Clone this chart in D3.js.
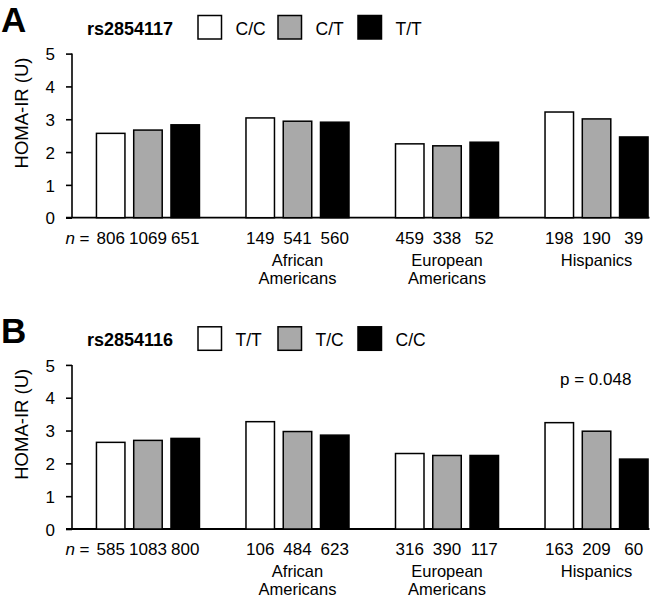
<!DOCTYPE html>
<html>
<head>
<meta charset="utf-8">
<script src="https://cdn.jsdelivr.net/npm/d3@7"></script>
<style>
  html, body { margin: 0; padding: 0; background: #fff; }
  svg { display: block; font-family: "Liberation Sans", Arial, Helvetica, sans-serif; }
</style>
</head>
<body>
<svg id="chart" width="650" height="599"></svg>
<script>
// ---- data ----
const groups = ["All", "African Americans", "European Americans", "Hispanics"];
const groupLabels = [[], ["African", "Americans"], ["European", "Americans"], ["Hispanics"]];
const yTicks = [0, 1, 2, 3, 4, 5];

const snpA = "rs2854117";
const genotypesA = ["C/C", "C/T", "T/T"];
const valuesA = [[2.57, 2.67, 2.83], [3.04, 2.94, 2.91], [2.25, 2.19, 2.30], [3.22, 3.01, 2.46]];
const countsA = [[806, 1069, 651], [149, 541, 560], [459, 338, 52], [198, 190, 39]];

const snpB = "rs2854116";
const genotypesB = ["T/T", "T/C", "C/C"];
const valuesB = [[2.64, 2.70, 2.76], [3.27, 2.97, 2.86], [2.30, 2.24, 2.24], [3.24, 2.98, 2.13]];
const countsB = [[585, 1083, 800], [106, 484, 623], [316, 390, 117], [163, 209, 60]];
const pTextB = "p = 0.048";

const fills = ["#ffffff", "#a9a9a9", "#000000"];

// ---- drawing ----
const svg = d3.select("#chart");

const x0 = d3.scaleBand().domain(groups).range([95.7, 648.8]).paddingInner(0.301).paddingOuter(0);

function panel(opts) {
  const g = svg.append("g").attr("transform", `translate(0,${opts.dy})`);
  const y = d3.scaleLinear().domain([0, 5]).range([217.7, 53.6]);
  const x1 = d3.scaleBand().domain(opts.genotypes).range([0, x0.bandwidth()]).paddingInner(0.195).paddingOuter(0);

  // panel letter
  g.append("text").attr("x", 1).attr("y", 32).attr("font-size", 35).attr("font-weight", "bold").text(opts.letter);

  // legend
  g.append("text").attr("x", 87).attr("y", 35).attr("font-size", 18).attr("font-weight", "bold").text(opts.snp);
  const lx = [198, 278, 358];
  opts.genotypes.forEach((gt, i) => {
    g.append("rect").attr("x", lx[i]).attr("y", 15.5).attr("width", 23.5).attr("height", 23.5)
      .attr("fill", fills[i]).attr("stroke", "#000").attr("stroke-width", 1.5);
    g.append("text").attr("x", lx[i] + 37.5).attr("y", 35).attr("font-size", 17.5).text(gt);
  });

  // y axis
  const ax = g.append("g").attr("transform", "translate(72,0)")
    .call(d3.axisLeft(y).tickValues(yTicks).tickSize(6).tickPadding(11).tickFormat(d3.format("d")));
  ax.select(".domain").attr("d", `M0,${y(5)}V${y(0)}`).attr("stroke-width", 1.6);
  ax.selectAll(".tick line").attr("stroke-width", 1.6);
  ax.selectAll(".tick text").attr("font-size", 17).attr("font-family", "Liberation Sans, Arial, sans-serif").attr("fill", "#000").attr("dy", "0.36em");

  // y title
  g.append("text").attr("transform", `translate(28,113) rotate(-90)`).attr("text-anchor", "middle")
    .attr("font-size", 18.5).text("HOMA-IR (U)");

  // baseline
  g.append("line").attr("x1", 66).attr("x2", 649.5).attr("y1", y(0)).attr("y2", y(0))
    .attr("stroke", "#000").attr("stroke-width", 1.8);

  // bars
  groups.forEach((grp, gi) => {
    const gg = g.append("g").attr("transform", `translate(${x0(grp)},0)`);
    opts.genotypes.forEach((gt, i) => {
      const v = opts.values[gi][i];
      gg.append("rect").attr("x", x1(gt) + 0.75).attr("y", y(v)).attr("width", x1.bandwidth() - 1.5)
        .attr("height", y(0) - y(v)).attr("fill", fills[i]).attr("stroke", "#000").attr("stroke-width", 1.5);
      gg.append("text").attr("x", x1(gt) + x1.bandwidth() / 2).attr("y", 243.5).attr("text-anchor", "middle")
        .attr("font-size", 17).text(opts.counts[gi][i]);
    });
    groupLabels[gi].forEach((ln, li) => {
      gg.append("text").attr("x", x0.bandwidth() / 2).attr("y", 266 + li * 18).attr("text-anchor", "middle")
        .attr("font-size", 16.5).text(ln);
    });
  });

  // n =
  const nt = g.append("text").attr("x", 89.5).attr("y", 243.5).attr("text-anchor", "end").attr("font-size", 17);
  nt.append("tspan").attr("font-style", "italic").text("n");
  nt.append("tspan").text(" =");

  if (opts.pText) {
    g.append("text").attr("x", 560).attr("y", 74).attr("font-size", 17).text(opts.pText);
  }
}

panel({ dy: 0, letter: "A", snp: snpA, genotypes: genotypesA, values: valuesA, counts: countsA });
panel({ dy: 311.3, letter: "B", snp: snpB, genotypes: genotypesB, values: valuesB, counts: countsB, pText: pTextB });
</script>
</body>
</html>
